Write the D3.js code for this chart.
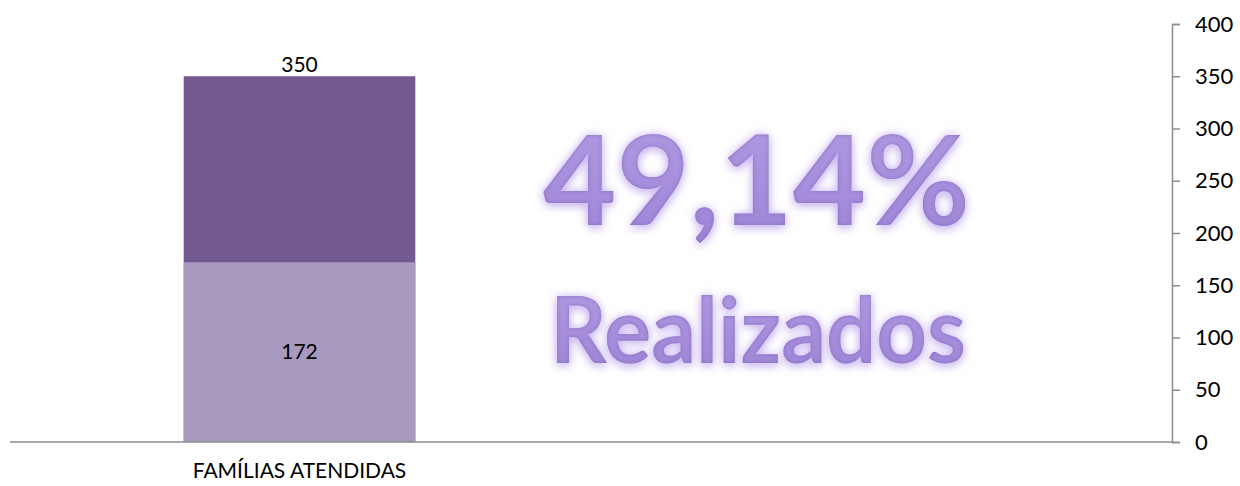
<!DOCTYPE html>
<html lang="pt">
<head>
  <meta charset="UTF-8">
  <title>Famílias atendidas</title>
  <script src="https://d3js.org/d3.v7.min.js"></script>
  <style>
    body { margin: 0; background: #fff; }
    text { font-family: Lato, "Open Sans", sans-serif; }
  </style>
</head>
<body>
  <script>
    const width = 1240, height = 486;

    // data
    const categories = ['FAMÍLIAS ATENDIDAS'];
    const meta = [350];        // dark bar (total)
    const realizado = [172];   // light bar (done)
    const yTicks = [0, 50, 100, 150, 200, 250, 300, 350, 400];
    const percentText = '49,14%';
    const subText = 'Realizados';

    const svg = d3.select('body')
      .append('svg')
      .attr('width', width)
      .attr('height', height);

    const x = d3.scaleBand().domain(categories).range([10, 589])
      .paddingInner(0.6).paddingOuter(0.3);
    const y = d3.scaleLinear().domain([0, 400]).range([442, 24]);

    // glow + bevel filter for the big text
    const defs = svg.append('defs');
    const grad = defs.append('linearGradient')
      .attr('id', 'txtGrad').attr('x1', 0).attr('y1', 0).attr('x2', 0).attr('y2', 1);
    grad.append('stop').attr('offset', '0%').attr('stop-color', '#b29ce4');
    grad.append('stop').attr('offset', '100%').attr('stop-color', '#9d84d6');

    const f = defs.append('filter').attr('id', 'glow')
      .attr('x', '-10%').attr('y', '-20%').attr('width', '120%').attr('height', '150%');
    f.append('feGaussianBlur').attr('in', 'SourceAlpha').attr('stdDeviation', 5).attr('result', 'blur');
    f.append('feFlood').attr('flood-color', '#cbb8f4').attr('flood-opacity', 0.9).attr('result', 'col');
    f.append('feComposite').attr('in', 'col').attr('in2', 'blur').attr('operator', 'in').attr('result', 'glow');
    f.append('feOffset').attr('in', 'blur').attr('dy', 4).attr('result', 'off');
    f.append('feFlood').attr('flood-color', '#bba6ea').attr('flood-opacity', 0.6).attr('result', 'col2');
    f.append('feComposite').attr('in', 'col2').attr('in2', 'off').attr('operator', 'in').attr('result', 'shadow');
    // darker inner edge (bevel-ish)
    f.append('feGaussianBlur').attr('in', 'SourceAlpha').attr('stdDeviation', 2).attr('result', 'inBlur');
    f.append('feComposite').attr('in', 'SourceAlpha').attr('in2', 'inBlur').attr('operator', 'out').attr('result', 'edge');
    f.append('feFlood').attr('flood-color', '#7d62b8').attr('flood-opacity', 0.8).attr('result', 'col3');
    f.append('feComposite').attr('in', 'col3').attr('in2', 'edge').attr('operator', 'in').attr('result', 'edgeCol');
    const m = f.append('feMerge');
    m.append('feMergeNode').attr('in', 'glow');
    m.append('feMergeNode').attr('in', 'shadow');
    m.append('feMergeNode').attr('in', 'SourceGraphic');
    m.append('feMergeNode').attr('in', 'edgeCol');

    // bars (dark total behind, light done in front)
    svg.append('g').selectAll('rect')
      .data(categories.map((c, i) => ({ c, v: meta[i] })))
      .join('rect')
      .attr('x', d => x(d.c))
      .attr('width', x.bandwidth())
      .attr('y', d => y(d.v))
      .attr('height', d => y(0) - y(d.v))
      .attr('fill', '#72598f');

    svg.append('g').selectAll('rect')
      .data(categories.map((c, i) => ({ c, v: realizado[i] })))
      .join('rect')
      .attr('x', d => x(d.c))
      .attr('width', x.bandwidth())
      .attr('y', d => y(d.v))
      .attr('height', d => y(0) - y(d.v))
      .attr('fill', '#a899bf');

    // value labels
    svg.append('g').selectAll('text')
      .data(categories.map((c, i) => ({ c, v: meta[i] })))
      .join('text')
      .attr('x', d => x(d.c) + x.bandwidth() / 2)
      .attr('y', d => y(d.v) - 4)
      .attr('text-anchor', 'middle')
      .attr('font-size', 21)
      .text(d => d.v);

    svg.append('g').selectAll('text')
      .data(categories.map((c, i) => ({ c, v: realizado[i] })))
      .join('text')
      .attr('x', d => x(d.c) + x.bandwidth() / 2)
      .attr('y', d => (y(d.v) + y(0)) / 2)
      .attr('dy', '0.35em')
      .attr('text-anchor', 'middle')
      .attr('font-size', 21)
      .text(d => d.v);

    // baseline
    svg.append('line')
      .attr('x1', 10).attr('x2', 1172)
      .attr('y1', y(0)).attr('y2', y(0))
      .attr('stroke', '#8c8c8c').attr('stroke-width', 1.5);

    // right axis
    const yAxis = d3.axisRight(y).tickValues(yTicks).tickSize(8).tickPadding(15);
    const ax = svg.append('g')
      .attr('transform', 'translate(1172,0)')
      .call(yAxis);
    ax.select('.domain').attr('stroke', '#8c8c8c').attr('stroke-width', 1.5);
    ax.selectAll('.tick line').attr('stroke', '#8c8c8c').attr('stroke-width', 1.5);
    ax.selectAll('.tick text')
      .attr('font-family', 'Lato, sans-serif')
      .attr('font-size', 22)
      .attr('fill', '#000');

    // category label
    svg.append('g').selectAll('text')
      .data(categories)
      .join('text')
      .attr('x', d => x(d) + x.bandwidth() / 2)
      .attr('y', 478)
      .attr('text-anchor', 'middle')
      .attr('font-size', 21)
      .text(d => d);

    // big text
    svg.append('text')
      .attr('x', 543).attr('y', 225)
      .attr('font-size', 124)
      .attr('font-weight', 700)
      .attr('textLength', 427)
      .attr('lengthAdjust', 'spacingAndGlyphs')
      .attr('fill', 'url(#txtGrad)')
      .attr('filter', 'url(#glow)')
      .text(percentText);

    svg.append('text')
      .attr('x', 550).attr('y', 363)
      .attr('font-size', 92)
      .attr('font-weight', 700)
      .attr('textLength', 416)
      .attr('lengthAdjust', 'spacingAndGlyphs')
      .attr('fill', 'url(#txtGrad)')
      .attr('filter', 'url(#glow)')
      .text(subText);
  </script>
</body>
</html>
